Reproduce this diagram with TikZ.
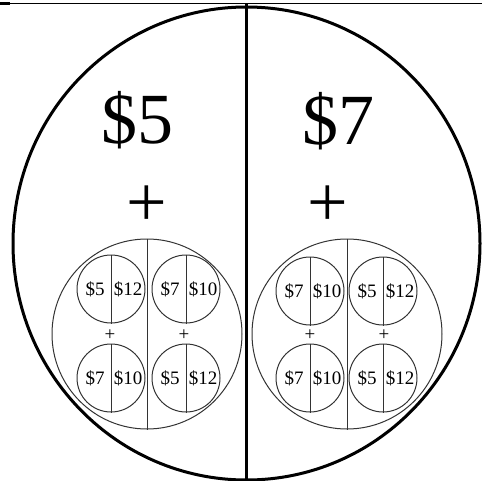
\documentclass[tikz,border=0pt]{standalone}
\usepackage{fontspec}
\setmainfont{Liberation Serif}
\usetikzlibrary{calc}

\begin{document}
\begin{tikzpicture}[x=0.5pt,y=-0.5pt,
    bigtext/.style={font=\fontsize{36}{40}\selectfont,inner sep=0pt,anchor=base},
    bundle/.style={draw=black!80,circle,minimum size=95pt,inner sep=0pt,
      line width=0.5pt},
    pick/.style={draw=black!80,circle,minimum size=34pt,inner sep=0pt,
      line width=0.5pt},
    price/.style={font=\fontsize{9.5}{11}\selectfont,inner sep=0pt},
    split/.style={draw=black!80,line width=0.5pt}]

    \useasboundingbox (0,0) rectangle (482,481);

    % frame: top rule, whole circle and middle axis
    \coordinate (ruleleft) at (0,4);
    \coordinate (ruleright) at (482,4);
    \draw[line width=0.5pt] (ruleleft) -- (ruleright);
    \draw[line width=1.5pt] (ruleleft) -- ++(10,0);
    \coordinate (whole) at (246.5,243.5);
    \draw[line width=1.5pt] (whole) ellipse [x radius=116.75pt,y radius=118.25pt];
    \coordinate (axistop) at (246.5,4);
    \coordinate (axisbottom) at (246.5,480);
    \draw[line width=1.5pt] (axistop) -- (axisbottom);

    % the two halves
    \node[bigtext] (firstprice) at (137,144) {\$5};
    \node[bigtext] (secondprice) at (338,145) {\$7};
    \node[bigtext] (firstplus) at (147,227) {+};
    \node[bigtext] (secondplus) at (328,227) {+};

    \foreach \g/\gx in {left/147,right/347} {
      \node[bundle] (\g) at (\gx,334) {};
      \draw[split] (\g.north) -- (\g.south);
      \foreach \col/\dx in {1/-37,2/37}
        \node[price,anchor=base] (plus\g\col) at ($(\g)+(\dx,340-334)$) {+};
    }
    \foreach \g/\row/\col/\dx/\dy/\a/\b in {
        left/1/1/-36/-45/5/12, left/1/2/39/-45/7/10,
        left/2/1/-36/44/7/10, left/2/2/39/44/5/12,
        right/1/1/-37/-43/7/10, right/1/2/36/-43/5/12,
        right/2/1/-37/44/7/10, right/2/2/36/44/5/12} {
      \node[pick] (\g\row\col) at ($(\g)+(\dx,\dy)$) {};
      \draw[split] (\g\row\col.north) -- (\g\row\col.south);
      \node[price] (\g\row\col a) at ($(\g\row\col)+(-16,0)$) {\$\a};
      \node[price] (\g\row\col b) at ($(\g\row\col)+(17,0)$) {\$\b};
    }
  \end{tikzpicture}
\end{document}
